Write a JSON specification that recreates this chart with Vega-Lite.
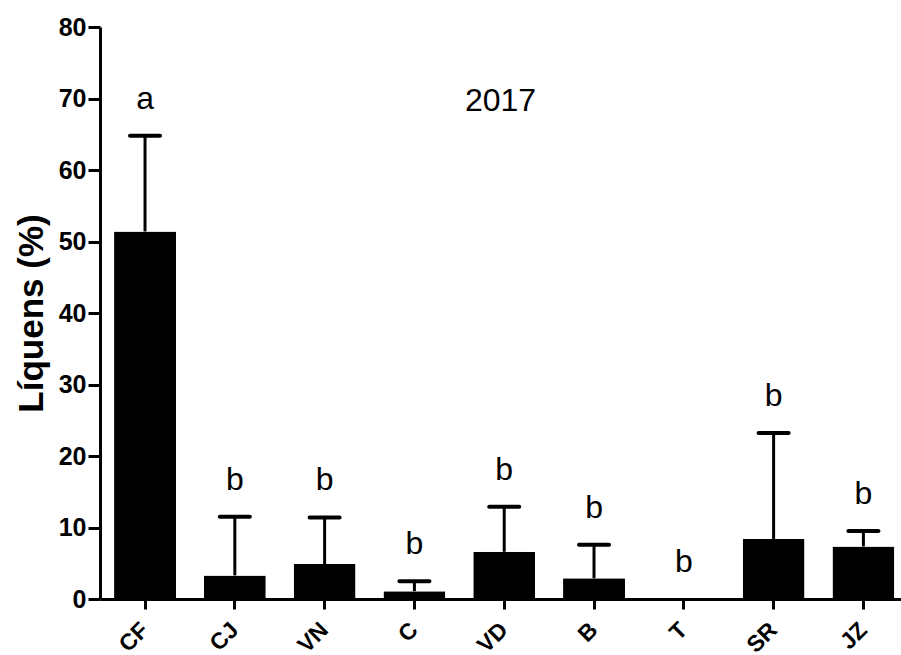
{
  "$schema": "https://vega.github.io/schema/vega-lite/v6.json",
  "autosize": "none",
  "padding": {"left": 100, "top": 27, "right": 0, "bottom": 56},
  "width": 801,
  "height": 572,
  "background": "white",
  "title": {
    "text": "2017",
    "orient": "top",
    "anchor": "middle",
    "frame": "group",
    "font": "Liberation Sans",
    "fontSize": 32,
    "fontWeight": "normal",
    "color": "black",
    "baseline": "alphabetic",
    "offset": 0,
    "dy": 128
  },
  "data": {
    "values": [
      {"site": "CF", "mean": 51.4, "upper": 64.8, "letter": "a"},
      {"site": "CJ", "mean": 3.3, "upper": 11.5, "letter": "b"},
      {"site": "VN", "mean": 4.9, "upper": 11.4, "letter": "b"},
      {"site": "C", "mean": 1.1, "upper": 2.5, "letter": "b"},
      {"site": "VD", "mean": 6.6, "upper": 12.9, "letter": "b"},
      {"site": "B", "mean": 2.9, "upper": 7.6, "letter": "b"},
      {"site": "T", "mean": 0, "upper": 0, "letter": "b"},
      {"site": "SR", "mean": 8.4, "upper": 23.2, "letter": "b"},
      {"site": "JZ", "mean": 7.35, "upper": 9.5, "letter": "b"}
    ]
  },
  "encoding": {
    "x": {
      "field": "site",
      "type": "nominal",
      "sort": null,
      "scale": {"paddingInner": 0.31, "paddingOuter": 0.115, "align": 0.68},
      "axis": {
        "title": null,
        "labelAngle": -45,
        "labelAlign": "right",
        "labelBaseline": "middle",
        "labelFont": "Liberation Sans",
        "labelFontSize": 23,
        "labelFontWeight": "bold",
        "labelColor": "black",
        "labelPadding": 17,
        "tickSize": 10,
        "tickWidth": 3,
        "tickColor": "black",
        "domainColor": "black",
        "domainWidth": 3
      }
    }
  },
  "layer": [
    {
      "mark": {"type": "bar", "color": "black", "cornerRadius": 1},
      "encoding": {
        "y": {
          "field": "mean",
          "type": "quantitative",
          "scale": {"domain": [0, 80], "nice": false},
          "axis": {
            "title": "Líquens (%)",
            "titleFont": "Liberation Sans",
            "titleFontSize": 35,
            "titleFontWeight": "bold",
            "titleColor": "black",
            "titlePadding": 9,
            "values": [0, 10, 20, 30, 40, 50, 60, 70, 80],
            "grid": false,
            "labelFont": "Liberation Sans",
            "labelFontSize": 25,
            "labelFontWeight": "bold",
            "labelColor": "black",
            "labelPadding": 2,
            "tickSize": 12,
            "tickWidth": 3,
            "tickColor": "black",
            "domainColor": "black",
            "domainWidth": 3
          }
        }
      }
    },
    {
      "transform": [{"filter": "datum.upper > datum.mean"}],
      "mark": {"type": "rule", "color": "black", "strokeWidth": 3},
      "encoding": {
        "y": {"field": "mean", "type": "quantitative"},
        "y2": {"field": "upper"}
      }
    },
    {
      "transform": [{"filter": "datum.upper > datum.mean"}],
      "mark": {"type": "tick", "color": "black", "size": 34, "thickness": 4, "cornerRadius": 2, "opacity": 1},
      "encoding": {
        "y": {"field": "upper", "type": "quantitative"}
      }
    },
    {
      "mark": {"type": "text", "font": "Liberation Sans", "fontSize": 32, "color": "black", "baseline": "alphabetic", "align": "center", "dy": -27},
      "encoding": {
        "y": {"field": "upper", "type": "quantitative"},
        "text": {"field": "letter"}
      }
    }
  ],
  "config": {
    "view": {"stroke": null},
    "axis": {"labelOverlap": false}
  }
}
